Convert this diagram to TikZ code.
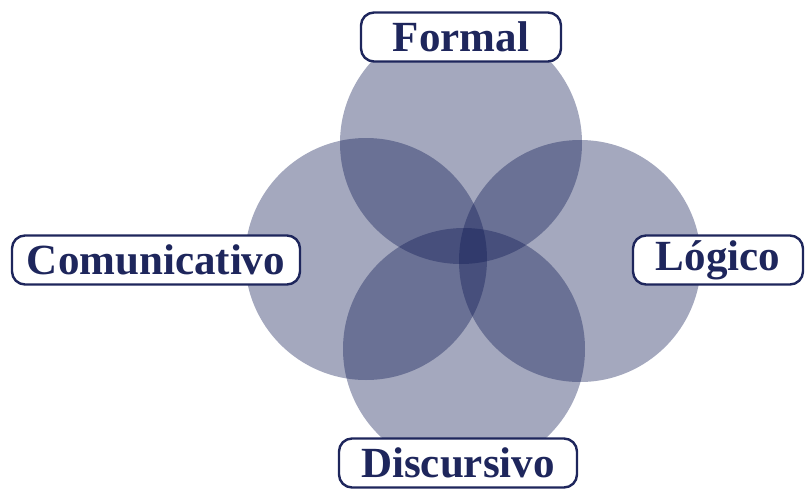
\documentclass[tikz,border=0pt]{standalone}
\usepackage{fontspec}
\setmainfont{Liberation Serif}
\definecolor{navy}{RGB}{12,23,82}
\definecolor{testo}{RGB}{30,38,92}
\tikzset{
    cerchio/.style={fill=navy, fill opacity=0.375, draw=none},
    etichetta/.style={draw=testo, line width=2.4pt, rounded corners=13pt, fill=white,
        text=testo, font=\fontsize{43}{43}\selectfont\bfseries,
        minimum height=49pt, inner ysep=0pt}
}
\begin{document}
\begin{tikzpicture}[x=1pt,y=-1pt]
            \useasboundingbox (0,0) rectangle (812,488);
            % Disegna i cerchi
            \foreach \cx/\cy in {461/143, 366/259, 580/261, 464/349}
                \fill[cerchio] (\cx,\cy) circle (121);

            % Etichette
            \node[etichetta, minimum width=200pt] (formal) at (461,37) {Formal};
            \node[etichetta, minimum width=288pt] (comunicativo) at (156,260) {Comunicativo};
            \node[etichetta, minimum width=170pt] (logico) at (718,260) {Lógico};
            \node[etichetta, minimum width=238pt] (discursivo) at (458,463) {Discursivo};
\end{tikzpicture}
\end{document}
